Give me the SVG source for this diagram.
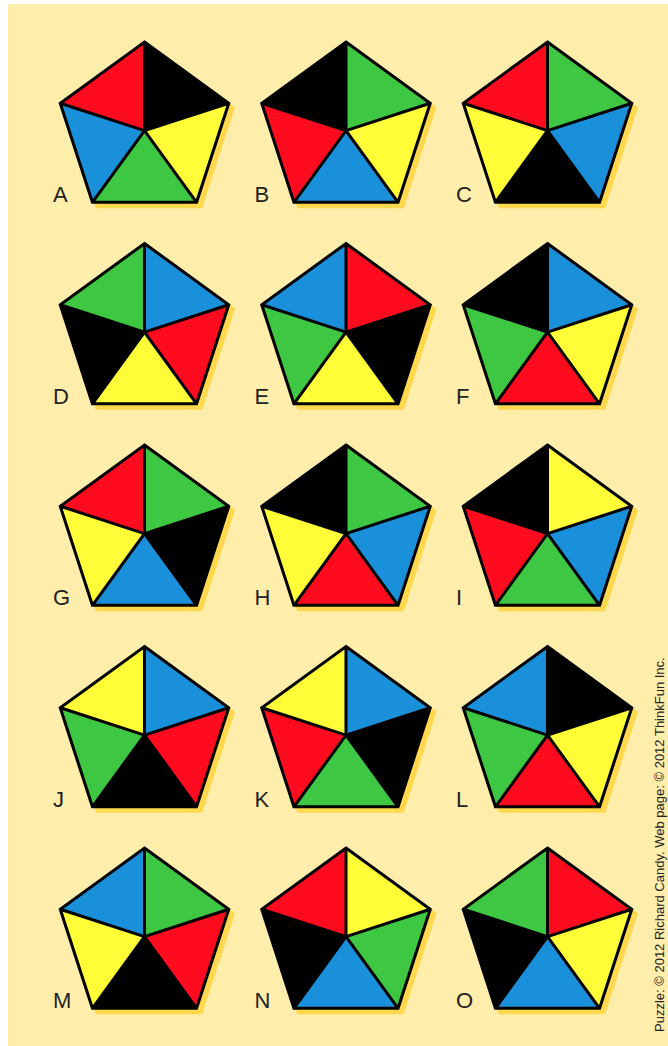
<svg xmlns="http://www.w3.org/2000/svg" xmlns:xlink="http://www.w3.org/1999/xlink" width="668" height="1046" viewBox="0 0 668 1046">
<style>
.r{fill:#FF0B1F}.k{fill:#000}.b{fill:#1B90DA}.g{fill:#3EC742}.y{fill:#FFFC38}
.sh{fill:#FFD84D;stroke:#FFD84D;stroke-width:3}
.ln{fill:none;stroke:#000;stroke-width:3;stroke-linejoin:miter}
.lbl{font-family:"Liberation Sans",Arial,sans-serif;font-size:22px;fill:#222}
.cr{font-family:"Liberation Sans",Arial,sans-serif;font-size:13px;fill:#222}
</style>
<defs>
<polygon id="pent" points="0,-88.6 84.26,-27.38 52.08,71.68 -52.08,71.68 -84.26,-27.38"/>
<polygon id="s1" points="0,0 0,-88.6 84.26,-27.38"/>
<polygon id="s2" points="0,0 84.26,-27.38 52.08,71.68"/>
<polygon id="s3" points="0,0 52.08,71.68 -52.08,71.68"/>
<polygon id="s4" points="0,0 -52.08,71.68 -84.26,-27.38"/>
<polygon id="s5" points="0,0 -84.26,-27.38 0,-88.6"/>
<path id="lines" d="M0,-88.6 L84.26,-27.38 L52.08,71.68 L-52.08,71.68 L-84.26,-27.38 Z M0,0 L0,-88.6 M0,0 L84.26,-27.38 M0,0 L52.08,71.68 M0,0 L-52.08,71.68 M0,0 L-84.26,-27.38"/>
<g id="base"><use xlink:href="#pent" class="sh" transform="translate(4.5,4.5)"/></g>
</defs>
<rect x="8" y="4" width="660" height="1042" fill="#FEEDAB"/>

<g id="A" transform="translate(144.5,130.6)"><use xlink:href="#base"/><use xlink:href="#s1" class="k"/><use xlink:href="#s2" class="y"/><use xlink:href="#s3" class="g"/><use xlink:href="#s4" class="b"/><use xlink:href="#s5" class="r"/><use xlink:href="#lines" class="ln"/></g>
<g id="B" transform="translate(346,130.6)"><use xlink:href="#base"/><use xlink:href="#s1" class="g"/><use xlink:href="#s2" class="y"/><use xlink:href="#s3" class="b"/><use xlink:href="#s4" class="r"/><use xlink:href="#s5" class="k"/><use xlink:href="#lines" class="ln"/></g>
<g id="C" transform="translate(547.5,130.6)"><use xlink:href="#base"/><use xlink:href="#s1" class="g"/><use xlink:href="#s2" class="b"/><use xlink:href="#s3" class="k"/><use xlink:href="#s4" class="y"/><use xlink:href="#s5" class="r"/><use xlink:href="#lines" class="ln"/></g>

<g id="D" transform="translate(144.5,332.1)"><use xlink:href="#base"/><use xlink:href="#s1" class="b"/><use xlink:href="#s2" class="r"/><use xlink:href="#s3" class="y"/><use xlink:href="#s4" class="k"/><use xlink:href="#s5" class="g"/><use xlink:href="#lines" class="ln"/></g>
<g id="E" transform="translate(346,332.1)"><use xlink:href="#base"/><use xlink:href="#s1" class="r"/><use xlink:href="#s2" class="k"/><use xlink:href="#s3" class="y"/><use xlink:href="#s4" class="g"/><use xlink:href="#s5" class="b"/><use xlink:href="#lines" class="ln"/></g>
<g id="F" transform="translate(547.5,332.1)"><use xlink:href="#base"/><use xlink:href="#s1" class="b"/><use xlink:href="#s2" class="y"/><use xlink:href="#s3" class="r"/><use xlink:href="#s4" class="g"/><use xlink:href="#s5" class="k"/><use xlink:href="#lines" class="ln"/></g>

<g id="G" transform="translate(144.5,533.6)"><use xlink:href="#base"/><use xlink:href="#s1" class="g"/><use xlink:href="#s2" class="k"/><use xlink:href="#s3" class="b"/><use xlink:href="#s4" class="y"/><use xlink:href="#s5" class="r"/><use xlink:href="#lines" class="ln"/></g>
<g id="H" transform="translate(346,533.6)"><use xlink:href="#base"/><use xlink:href="#s1" class="g"/><use xlink:href="#s2" class="b"/><use xlink:href="#s3" class="r"/><use xlink:href="#s4" class="y"/><use xlink:href="#s5" class="k"/><use xlink:href="#lines" class="ln"/></g>
<g id="I" transform="translate(547.5,533.6)"><use xlink:href="#base"/><use xlink:href="#s1" class="y"/><use xlink:href="#s2" class="b"/><use xlink:href="#s3" class="g"/><use xlink:href="#s4" class="r"/><use xlink:href="#s5" class="k"/><use xlink:href="#lines" class="ln"/></g>

<g id="J" transform="translate(144.5,735.1)"><use xlink:href="#base"/><use xlink:href="#s1" class="b"/><use xlink:href="#s2" class="r"/><use xlink:href="#s3" class="k"/><use xlink:href="#s4" class="g"/><use xlink:href="#s5" class="y"/><use xlink:href="#lines" class="ln"/></g>
<g id="K" transform="translate(346,735.1)"><use xlink:href="#base"/><use xlink:href="#s1" class="b"/><use xlink:href="#s2" class="k"/><use xlink:href="#s3" class="g"/><use xlink:href="#s4" class="r"/><use xlink:href="#s5" class="y"/><use xlink:href="#lines" class="ln"/></g>
<g id="L" transform="translate(547.5,735.1)"><use xlink:href="#base"/><use xlink:href="#s1" class="k"/><use xlink:href="#s2" class="y"/><use xlink:href="#s3" class="r"/><use xlink:href="#s4" class="g"/><use xlink:href="#s5" class="b"/><use xlink:href="#lines" class="ln"/></g>

<g id="M" transform="translate(144.5,936.6)"><use xlink:href="#base"/><use xlink:href="#s1" class="g"/><use xlink:href="#s2" class="r"/><use xlink:href="#s3" class="k"/><use xlink:href="#s4" class="y"/><use xlink:href="#s5" class="b"/><use xlink:href="#lines" class="ln"/></g>
<g id="N" transform="translate(346,936.6)"><use xlink:href="#base"/><use xlink:href="#s1" class="y"/><use xlink:href="#s2" class="g"/><use xlink:href="#s3" class="b"/><use xlink:href="#s4" class="k"/><use xlink:href="#s5" class="r"/><use xlink:href="#lines" class="ln"/></g>
<g id="O" transform="translate(547.5,936.6)"><use xlink:href="#base"/><use xlink:href="#s1" class="r"/><use xlink:href="#s2" class="y"/><use xlink:href="#s3" class="b"/><use xlink:href="#s4" class="k"/><use xlink:href="#s5" class="g"/><use xlink:href="#lines" class="ln"/></g>

<g id="labels">
<text class="lbl" x="53" y="202">A</text>
<text class="lbl" x="254.5" y="202">B</text>
<text class="lbl" x="456" y="202">C</text>
<text class="lbl" x="53" y="403.5">D</text>
<text class="lbl" x="254.5" y="403.5">E</text>
<text class="lbl" x="456" y="403.5">F</text>
<text class="lbl" x="53" y="605">G</text>
<text class="lbl" x="254.5" y="605">H</text>
<text class="lbl" x="456" y="605">I</text>
<text class="lbl" x="53" y="806.5">J</text>
<text class="lbl" x="254.5" y="806.5">K</text>
<text class="lbl" x="456" y="806.5">L</text>
<text class="lbl" x="53" y="1008">M</text>
<text class="lbl" x="254.5" y="1008">N</text>
<text class="lbl" x="456" y="1008">O</text>
</g>
<g id="connectors"/>
<text class="cr" transform="translate(664,1032) rotate(-90)">Puzzle: © 2012 Richard Candy. Web page: © 2012 ThinkFun Inc.</text>
</svg>
